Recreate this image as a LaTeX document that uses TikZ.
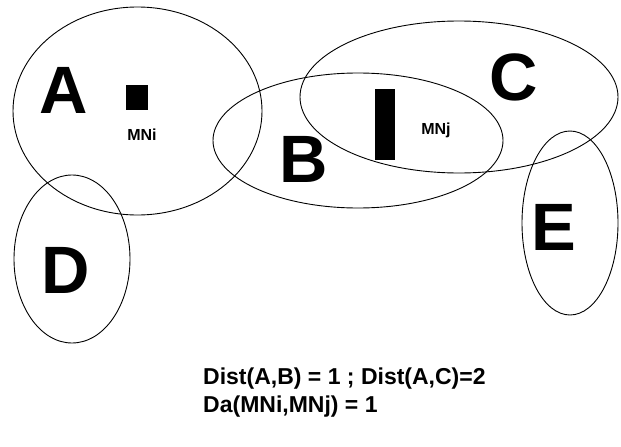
\documentclass[tikz,border=0pt]{standalone}
\usepackage{fontspec}
\setmainfont{Liberation Sans}
\begin{document}
\begin{tikzpicture}[x=1pt,y=-1pt,
  region/.style={draw=black,line width=0.9pt},
  biglabel/.style={font=\fontsize{67}{67}\selectfont\bfseries,inner sep=0pt,anchor=base},
  smalllabel/.style={font=\fontsize{16}{16}\selectfont\bfseries,inner sep=0pt,anchor=base},
  marker/.style={fill=black,draw=none,inner sep=0pt}]
\useasboundingbox (0,0) rectangle (621,447);
% regions
\draw[region] (137.5,111) ellipse [x radius=124.5, y radius=104];
\draw[region] (358,140.5) ellipse [x radius=145, y radius=67.5];
\draw[region] (459,97) ellipse [x radius=159, y radius=76];
\draw[region] (72,259) ellipse [x radius=58, y radius=84];
\draw[region] (570,223) ellipse [x radius=48, y radius=92];
% labels
\node[biglabel] (la) at (63.5,113) {A};
\node[biglabel] (lb) at (303.5,182) {B};
\node[biglabel] (lc) at (514,100) {C};
\node[biglabel] (ld) at (66,293) {D};
\node[biglabel] (le) at (554,250) {E};
% markers
\node[marker,minimum width=22pt,minimum height=25pt] (mni) at (137,97.5) {};
\node[marker,minimum width=20pt,minimum height=71pt] (mnj) at (385,124.5) {};
\node[smalllabel] (tmni) at (142,140) {MNi};
\node[smalllabel] (tmnj) at (436,134) {MNj};
% formula
\node[font=\fontsize{23}{28}\selectfont\bfseries,inner sep=0pt,anchor=base west,align=left] (formula) at (203,412)
  {Dist(A,B) = 1 ; Dist(A,C)=2\\Da(MNi,MNj) = 1};
\end{tikzpicture}
\end{document}
